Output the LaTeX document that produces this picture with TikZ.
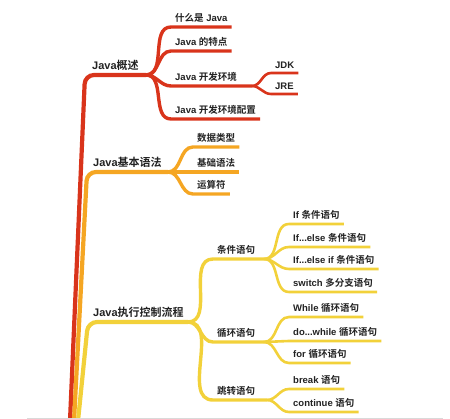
\documentclass[tikz,border=0pt]{standalone}
\usepackage{fontspec}
\setmainfont{Liberation Sans}
\newfontfamily\zh{Noto Sans CJK SC}[BoldFont={Noto Sans CJK SC Bold}]
\usetikzlibrary{calc}
\definecolor{mred}{HTML}{D9341B}
\definecolor{morange}{HTML}{F5A623}
\definecolor{myellow}{HTML}{F2D13A}
\definecolor{mtext}{HTML}{222222}
\tikzset{
  every picture/.style={font=\bfseries},
  topic/.style={anchor=south west, inner xsep=4pt, inner ysep=4.5pt, text=mtext, font=\bfseries\fontsize{11}{13}\selectfont},
  sub/.style={topic, inner ysep=4pt, font=\bfseries\fontsize{9.5}{11}\selectfont},
  trunk/.style={draw=#1, line width=4.2pt, rounded corners=9pt},
  twig/.style={draw=#1, line width=3.4pt},
  leaf/.style={draw=#1, line width=2.6pt},
}
\begin{document}
\begin{tikzpicture}[x=1pt, y=-1pt]
  \useasboundingbox (0,0) rectangle (450,419);
  % roots and forks
  \coordinate (r1) at (70,421);
  \coordinate (k1) at (85,75);
  \coordinate (f1) at (146,75);
  \coordinate (r2) at (74,421);
  \coordinate (k2) at (87,172);
  \coordinate (f2) at (168,172);
  \coordinate (r3) at (78,421);
  \coordinate (k3) at (88,322);
  \coordinate (f3) at (188,322);

  % Java overview
  \node[topic] (m1) at (88,75) {Java{\zh 概述}};
  \node[sub] (a1) at (171,27) {{\zh 什么是} Java};
  \node[sub] (a2) at (171,51) {Java {\zh 的特点}};
  \node[sub] (a3) at (171,86) {Java {\zh 开发环境}};
  \node[sub] (a4) at (171,119) {Java {\zh 开发环境配置}};
  \coordinate (f13) at (252,86);
  \node[sub] (h1) at (271,73) {JDK};
  \node[sub] (h2) at (271,94) {JRE};

  \draw[trunk=mred] (r1) -- (k1) -- (f1);
  \draw[twig=mred] (f1) to[out=0, in=180] (a1.south west) -- (a1.south east);
  \draw[twig=mred] (f1) to[out=0, in=180] (a2.south west) -- (a2.south east);
  \draw[twig=mred] (f1) to[out=0, in=180] (a3.south west) -- (f13);
  \draw[twig=mred] (f1) to[out=0, in=180] (a4.south west) -- (a4.south east);
  \draw[leaf=mred] (f13) to[out=0, in=180] (h1.south west) -- (h1.south east);
  \draw[leaf=mred] (f13) to[out=0, in=180] (h2.south west) -- (h2.south east);

  % basic syntax
  \node[topic] (m2) at (89,172) {Java{\zh 基本语法}};
  \node[sub] (b1) at (193,147) {\zh 数据类型};
  \node[sub] (b2) at (193,172) {\zh 基础语法};
  \node[sub] (b3) at (193,194) {\zh 运算符};

  \draw[trunk=morange] (r2) -- (k2) -- (f2);
  \draw[twig=morange] (f2) to[out=0, in=180] (b1.south west) -- (b1.south east);
  \draw[twig=morange] (f2) -- (b2.south west) -- (b2.south east);
  \draw[twig=morange] (f2) to[out=0, in=180] (b3.south west) -- (b3.south east);

  % control flow
  \node[topic] (m3) at (89,322) {Java{\zh 执行控制流程}};
  \node[sub] (c1) at (213,259) {\zh 条件语句};
  \node[sub] (c2) at (213,342) {\zh 循环语句};
  \node[sub] (c3) at (213,400) {\zh 跳转语句};
  \coordinate (fc1) at (264,259);
  \coordinate (fc2) at (264,342);
  \coordinate (fc3) at (267,400);
  \node[sub] (d1) at (289,224) {If {\zh 条件语句}};
  \node[sub] (d2) at (289,247) {If...else {\zh 条件语句}};
  \node[sub] (d3) at (289,269) {If...else if {\zh 条件语句}};
  \node[sub] (d4) at (289,292) {switch {\zh 多分支语句}};
  \node[sub] (e1) at (289,317) {While {\zh 循环语句}};
  \node[sub] (e2) at (289,341) {do...while {\zh 循环语句}};
  \node[sub] (e3) at (289,363) {for {\zh 循环语句}};
  \node[sub] (g1) at (289,389) {break {\zh 语句}};
  \node[sub] (g2) at (289,412) {continue {\zh 语句}};

  \draw[trunk=myellow] (r3) -- (k3) -- (f3);
  \draw[twig=myellow] (f3) to[out=0, in=180] (c1.south west) -- (fc1);
  \draw[twig=myellow] (f3) to[out=0, in=180] (c2.south west) -- (fc2);
  \draw[twig=myellow] (f3) to[out=0, in=180] (c3.south west) -- (fc3);
  \draw[leaf=myellow] (fc1) to[out=0, in=180] (d1.south west) -- (d1.south east);
  \draw[leaf=myellow] (fc1) to[out=0, in=180] (d2.south west) -- (d2.south east);
  \draw[leaf=myellow] (fc1) to[out=0, in=180] (d3.south west) -- (d3.south east);
  \draw[leaf=myellow] (fc1) to[out=0, in=180] (d4.south west) -- (d4.south east);
  \draw[leaf=myellow] (fc2) to[out=0, in=180] (e1.south west) -- (e1.south east);
  \draw[leaf=myellow] (fc2) -- (e2.south west) -- (e2.south east);
  \draw[leaf=myellow] (fc2) to[out=0, in=180] (e3.south west) -- (e3.south east);
  \draw[leaf=myellow] (fc3) to[out=0, in=180] (g1.south west) -- (g1.south east);
  \draw[leaf=myellow] (fc3) to[out=0, in=180] (g2.south west) -- (g2.south east);

  \draw[gray!30, line width=1pt] (27,418.5) -- (443,418.5);
\end{tikzpicture}
\end{document}
